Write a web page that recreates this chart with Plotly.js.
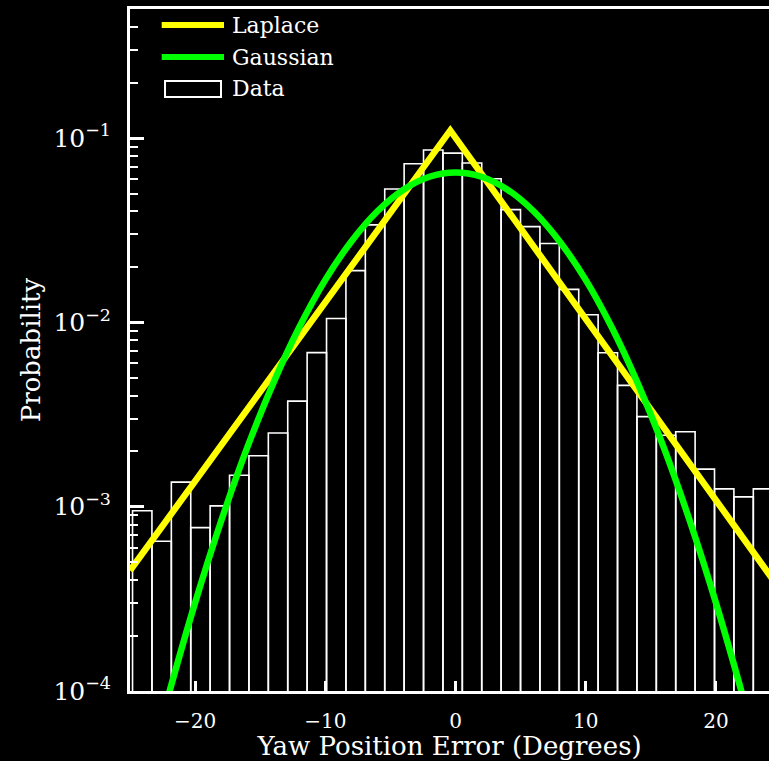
<!DOCTYPE html>
<html>
<head>
<meta charset="utf-8">
<script src="https://cdn.plot.ly/plotly-3.0.1.min.js"></script>
<style>html,body{margin:0;padding:0;background:#000;}#chart{width:769px;height:761px;}</style>
</head>
<body>
<div id="chart"></div>
<script>
// Histogram of yaw position error (bin centres, width, probabilities)
const binCenters = [-24.06, -22.57, -21.08, -19.59, -18.10, -16.61, -15.12, -13.63, -12.14, -10.65,
  -9.16, -7.67, -6.18, -4.69, -3.20, -1.71, -0.22, 1.27, 2.76, 4.25, 5.74, 7.23, 8.72, 10.21,
  11.70, 13.19, 14.68, 16.17, 17.66, 19.15, 20.64, 22.13, 23.62];
const binWidth = 1.49;
const dataProb = [9.5e-4, 6.5e-4, 1.36e-3, 7.7e-4, 1.01e-3, 1.48e-3, 1.89e-3, 2.51e-3, 3.74e-3, 6.85e-3,
  1.05e-2, 1.91e-2, 3.38e-2, 5.29e-2, 7.26e-2, 8.61e-2, 8.29e-2, 7.32e-2, 6.02e-2, 4.09e-2,
  3.31e-2, 2.68e-2, 1.51e-2, 1.10e-2, 6.84e-3, 4.55e-3, 3.08e-3, 2.44e-3, 2.55e-3, 1.60e-3,
  1.25e-3, 1.13e-3, 1.25e-3];

// Laplace fit (straight lines on the log axis)
const laplaceX = [-25, -0.4, 25];
const laplaceY = [4.5e-4, 0.11, 3.5e-4];

// Gaussian fit
const gaussX = [-23, -22, -20, -18, -16, -14, -12, -10, -8, -6, -4, -2, 0, 2, 4, 6, 8, 10, 12, 14, 16, 18, 20, 22, 23];
const gaussY = [5.3e-5, 9.74e-5, 3.01e-4, 8.36e-4, 2.09e-3, 4.67e-3, 9.40e-3, 1.70e-2, 2.75e-2, 4.01e-2,
  5.25e-2, 6.17e-2, 6.51e-2, 6.17e-2, 5.25e-2, 4.01e-2, 2.75e-2, 1.70e-2, 9.40e-3, 4.67e-3,
  2.09e-3, 8.36e-4, 3.01e-4, 9.74e-5, 5.3e-5];

const legendNames = ['Laplace', 'Gaussian', 'Data'];
const FONT = '"DejaVu Serif", serif';

const traces = [
  {type: 'bar', name: 'Data', x: binCenters, y: dataProb, width: binWidth,
   marker: {color: 'rgba(0,0,0,0)', line: {color: 'white', width: 1.6}}, showlegend: false},
  {type: 'scatter', mode: 'lines', name: 'Laplace', x: laplaceX, y: laplaceY,
   line: {color: '#ffff00', width: 6.5}, showlegend: false},
  {type: 'scatter', mode: 'lines', name: 'Gaussian', x: gaussX, y: gaussY,
   line: {color: '#00ff00', width: 6.5, shape: 'spline'}, showlegend: false}
];

// custom legend (paper coordinates)
const legY = [0.9765, 0.9296, 0.8827];
const shapes = [
  {type: 'line', xref: 'paper', yref: 'paper', x0: 0.0496, x1: 0.1471, y0: legY[0], y1: legY[0], line: {color: '#ffff00', width: 6}},
  {type: 'line', xref: 'paper', yref: 'paper', x0: 0.0496, x1: 0.1471, y0: legY[1], y1: legY[1], line: {color: '#00ff00', width: 6}},
  {type: 'rect', xref: 'paper', yref: 'paper', x0: 0.0548, x1: 0.1424, y0: 0.8710, y1: 0.8944, line: {color: 'white', width: 2}, fillcolor: 'rgba(0,0,0,0)'}
];
const annotations = legendNames.map((t, i) => ({
  xref: 'paper', yref: 'paper', x: 0.1565, y: legY[i], xanchor: 'left', yanchor: 'middle',
  text: t, showarrow: false, font: {family: FONT, size: 22, color: 'white'}
}));

const layout = {
  width: 769, height: 761,
  paper_bgcolor: '#000', plot_bgcolor: '#000',
  margin: {l: 130, r: 0, t: 9, b: 70},
  showlegend: false,
  font: {family: FONT, color: 'white'},
  xaxis: {
    range: [-25, 24.08], showgrid: false, zeroline: false,
    showline: true, linecolor: 'white', linewidth: 3, mirror: true,
    ticks: 'inside', ticklen: 10, tickwidth: 3, tickcolor: 'white',
    tick0: 0, dtick: 10, ticklabelstandoff: 10,
    tickfont: {family: FONT, size: 20, color: 'white'},
    title: {text: 'Yaw Position Error (Degrees)', font: {family: FONT, size: 26, color: 'white'}, standoff: 4}
  },
  yaxis: {
    type: 'log', range: [-4, -0.2996], showgrid: false, zeroline: false,
    showline: true, linecolor: 'white', linewidth: 3,
    ticks: 'inside', ticklen: 14, tickwidth: 3, tickcolor: 'white',
    dtick: 1, exponentformat: 'power', ticklabelstandoff: 12,
    tickfont: {family: FONT, size: 20, color: 'white'},
    minor: {ticks: 'inside', ticklen: 8, tickwidth: 2, tickcolor: 'white', dtick: 'D1', showgrid: false},
    title: {text: 'Probability', font: {family: FONT, size: 26, color: 'white'}, standoff: 6}
  },
  shapes: shapes,
  annotations: annotations
};

Plotly.newPlot('chart', traces, layout, {displayModeBar: false, staticPlot: true});
</script>
</body>
</html>
